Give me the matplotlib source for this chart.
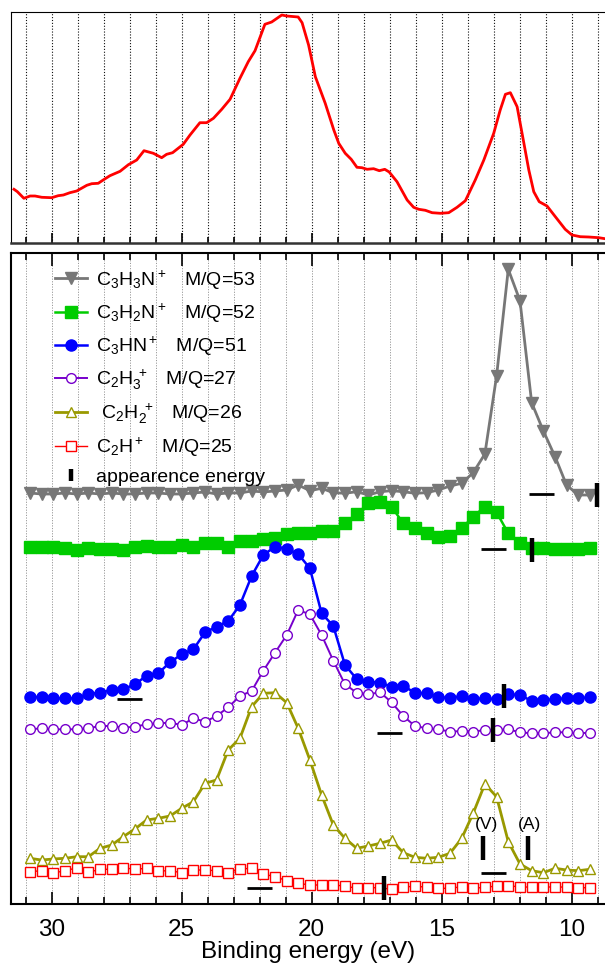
import matplotlib
matplotlib.use('Agg')
import matplotlib.pyplot as plt
from matplotlib.lines import Line2D
from matplotlib.ticker import MultipleLocator

plt.rcParams['font.family'] = ['Liberation Sans', 'DejaVu Sans']
plt.rcParams['mathtext.fontset'] = 'custom'
plt.rcParams['mathtext.rm'] = 'Liberation Sans'
plt.rcParams['mathtext.it'] = 'Liberation Sans:italic'
plt.rcParams['mathtext.bf'] = 'Liberation Sans:bold'

# photoelectron spectrum, top panel (arb. units)
pes_energy = [31.45, 31.32, 31.07, 30.83, 30.64, 30.38, 30.0, 29.75, 29.55, 29.30,
              29.04, 28.65, 28.46, 28.21, 28.02, 27.76, 27.37, 27.05, 26.73, 26.45,
              26.09, 25.77, 25.58, 25.35, 24.94, 24.68, 24.30, 24.04, 23.78, 23.46,
              23.14, 22.76, 22.44, 22.18, 21.80, 21.54, 21.15, 20.96, 20.52, 20.37,
              20.12, 19.86, 19.48, 19.15, 18.96, 18.71, 18.48, 18.26, 18.07, 17.87,
              17.62, 17.40, 17.19, 17.02, 16.72, 16.33, 16.08, 15.88, 15.63, 15.37,
              15.05, 14.73, 14.41, 14.09, 13.71, 13.38, 13.0, 12.75, 12.55, 12.36,
              12.10, 11.91, 11.65, 11.46, 11.25, 10.95, 10.63, 10.25, 9.99, 9.67,
              9.35, 8.96, 8.72]
pes_intensity = [54.0, 51.6, 45.0, 47.3, 47.3, 46.0, 45.6, 47.6, 48.3, 50.6,
                 52.3, 58.0, 59.6, 60.0, 63.3, 67.6, 72.0, 78.6, 83.3, 92.6,
                 90.0, 85.6, 89.0, 90.6, 99.0, 108.3, 120.6, 120.6, 125.0, 134.0,
                 144.0, 165.0, 181.6, 192.6, 219.0, 221.3, 228.3, 227.3, 226.3, 220.6,
                 198.3, 166.6, 140.0, 113.3, 100.0, 90.0, 84.0, 76.0, 75.6, 74.0,
                 74.6, 72.6, 74.0, 71.3, 61.6, 43.3, 36.0, 34.0, 33.0, 30.6,
                 30.0, 30.6, 36.0, 42.6, 63.3, 83.3, 110.0, 133.3, 149.0, 150.6,
                 136.6, 110.0, 73.3, 51.6, 41.6, 37.3, 26.6, 14.0, 8.3, 6.6,
                 6.3, 5.6, 4.6]

# ion yield scans, bottom panel (arb. units, curves offset)
energy = [30.84, 30.39, 29.94, 29.49, 29.04, 28.59, 28.14, 27.69, 27.25, 26.80,
          26.35, 25.90, 25.45, 25.00, 24.55, 24.10, 23.66, 23.21, 22.76, 22.31,
          21.86, 21.41, 20.96, 20.52, 20.07, 19.62, 19.17, 18.72, 18.27, 17.82,
          17.37, 16.93, 16.48, 16.03, 15.58, 15.13, 14.68, 14.23, 13.79, 13.34,
          12.89, 12.44, 11.99, 11.54, 11.09, 10.64, 10.20, 9.75, 9.30]

mq53 = [411, 410, 410, 411, 410, 411, 410, 411, 410, 410,
        411, 411, 410, 410, 411, 412, 410, 411, 411, 413,
        412, 413, 414, 419, 413.3, 415.7, 411.3, 410.7, 412.3, 409,
        412.3, 413.3, 412.3, 410.7, 411.3, 414, 418, 420.7, 431.3, 450,
        528, 634.7, 603.3, 501.3, 473, 447.3, 419, 409, 409]
mq52 = [357.3, 357.3, 357.3, 355.7, 354, 356.3, 355, 355, 354, 356.7,
        358, 357.3, 357.3, 359, 357.3, 360.7, 360.7, 357.3, 363.3, 363.3,
        365, 366.3, 369.7, 370.7, 371.3, 373, 373, 381.3, 389.7, 400.7,
        402.3, 397.3, 380.7, 375.7, 371.3, 366.7, 368, 375.7, 387.3, 397.3,
        391.7, 370.7, 360.7, 356.3, 355.7, 354.7, 354.7, 354.7, 355.7]
mq51 = [207.3, 206.7, 205.7, 205.7, 205.7, 210, 211.3, 214, 214.7, 219.7,
        228.3, 230.7, 241.7, 249.7, 254.7, 271.7, 277.3, 283, 299, 328,
        349, 357.3, 355, 350, 335.7, 290.7, 278, 239, 225, 222.3,
        221.3, 217.3, 218, 211.3, 210.7, 207.3, 205.7, 208, 205, 205.7,
        204.7, 209.7, 209, 203, 204, 204.7, 205.7, 205.7, 206.7]
mq27 = [174.7, 175.7, 174.7, 174.7, 174.7, 175.7, 178, 178, 176.3, 177.3,
        179.7, 180.7, 181.3, 179, 185.7, 182.3, 188, 196.7, 208, 213,
        233.3, 251.3, 269, 294, 289.7, 269, 243.3, 219.7, 211.3, 209.7,
        211.7, 201.7, 188, 178, 175.7, 174.7, 172.3, 173, 172.3, 174,
        174, 174.7, 171.7, 170.7, 170.7, 171.7, 171.7, 170.7, 171.3]
mq26 = [45.7, 44, 45, 45.7, 47.3, 47.3, 55.7, 59, 67.3, 75,
        84, 85.7, 88, 95.7, 102.3, 120.7, 124, 154, 165.7, 197.3,
        210.7, 211.3, 201.3, 175.7, 144, 109, 79, 65.7, 55.7, 58,
        60.7, 64, 51.3, 46.7, 45.7, 46.7, 50.7, 65.7, 90.7, 120,
        107.3, 62.3, 40, 33.3, 31.3, 35.7, 34, 33.3, 34.7]
mq25 = [32.3, 33.3, 31.3, 33, 36.3, 31.7, 34.7, 34.7, 36.3, 34.7,
        35.7, 33, 33.3, 31.3, 34, 34, 33.3, 31.3, 35, 35.7,
        30, 27.3, 23.3, 20.7, 19, 19, 19, 18, 15.7, 16.3,
        16.3, 14.7, 16.7, 18, 16.7, 15.7, 15.7, 17.3, 15.7, 16.7,
        18, 18, 17.3, 16.7, 16.7, 17.3, 16.7, 16.3, 16.3]

labels = [r'$\mathregular{C_3H_3N^+}$   M/Q=53',
          r'$\mathregular{C_3H_2N^+}$   M/Q=52',
          r'$\mathregular{C_3HN^+}$   M/Q=51',
          r'$\mathregular{C_2H_3^{\ +}}$   M/Q=27',
          r' $\mathregular{C_2H_2^{\ +}}$   M/Q=26',
          r'$\mathregular{C_2H^+}$   M/Q=25']

# appearance energies (bars) and threshold levels (short horizontal lines)
ae_energy = [9.04, 11.52, 12.62, 13.03, 13.41, 11.69, 17.22]
ae_level = [409, 354.5, 208, 174, 56, 56, 15.7]
thr_energy = [11.18, 13.0, 27.0, 17.0, 13.0, 22.0]
thr_level = [410, 355, 204.7, 170.7, 30.7, 16.3]

fig = plt.figure(figsize=(6.05, 9.66), dpi=100)
ax_top = fig.add_axes([11 / 605, 722.7 / 966, 594 / 605, 231.6 / 966])
ax = fig.add_axes([11 / 605, 62 / 966, 594 / 605, 650.7 / 966])

# top panel
ax_top.plot(pes_energy, pes_intensity, color='#ff0000', lw=2.0, clip_on=False)
ax_top.set_xlim(31.565, 8.72)
ax_top.set_ylim(0, 231.6)
ax_top.xaxis.set_major_locator(MultipleLocator(5))
ax_top.xaxis.set_minor_locator(MultipleLocator(1))
ax_top.tick_params(axis='x', which='both', direction='in', labelbottom=False, width=1.2)
ax_top.tick_params(axis='x', which='major', length=7)
ax_top.tick_params(axis='x', which='minor', length=4)
ax_top.set_yticks([])
ax_top.grid(axis='x', which='both', color='#111111', ls=(0, (1.0, 1.6)), lw=0.8)
ax_top.spines['right'].set_visible(False)
ax_top.spines['bottom'].set_linewidth(1.8)
ax_top.spines['bottom'].set_color('#333333')

# bottom panel
styles = [dict(color='#777777', marker='v', ms=8, mfc='#777777', lw=2.0),
          dict(color='#00cc00', marker='s', ms=8.5, mfc='#00cc00', lw=1.8),
          dict(color='#0000ff', marker='o', ms=8, mfc='#0000ff', lw=1.8),
          dict(color='#7700cc', marker='o', ms=7, mfc='white', lw=1.4, mew=1.0),
          dict(color='#999900', marker='^', ms=7.5, mfc='white', lw=2.0, mew=1.0),
          dict(color='#ff0000', marker='s', ms=7, mfc='white', lw=1.0, mew=1.0)]
handles = []
for vals, lab, st in zip([mq53, mq52, mq51, mq27, mq26, mq25], labels, styles):
    h, = ax.plot(energy, vals, label=lab, clip_on=False, **st)
    handles.append(h)

ax.vlines(ae_energy, [v - 12 for v in ae_level], [v + 12 for v in ae_level],
          color='black', lw=3.2)
ax.hlines(thr_level, [e + 0.48 for e in thr_energy], [e - 0.48 for e in thr_energy],
          color='black', lw=2.0)
ax.text(13.27, 79, '(V)', fontsize=12.5, ha='center', va='center')
ax.text(11.64, 79, '(A)', fontsize=12.5, ha='center', va='center')

handles.append(Line2D([], [], ls='none', marker='|', ms=9, mew=3.2, color='black'))
leg = ax.legend(handles, labels + ['appearence energy'], loc='upper left',
                bbox_to_anchor=(44 / 594, 1 - 15 / 650.7), frameon=False,
                fontsize=14, handlelength=1.65, handletextpad=0.45,
                labelspacing=0.5, borderpad=0, borderaxespad=0)

ax.set_xlim(31.565, 8.72)
ax.set_ylim(0, 650.7)
ax.xaxis.set_major_locator(MultipleLocator(5))
ax.xaxis.set_minor_locator(MultipleLocator(1))
ax.tick_params(axis='x', which='both', direction='in', top=True, width=1.2,
               labelsize=17.5, pad=11)
ax.tick_params(axis='x', which='major', length=9)
ax.tick_params(axis='x', which='minor', length=5)
ax.set_yticks([])
ax.grid(axis='x', which='both', color='#999999', ls=(0, (1.2, 1.5)), lw=0.7)
ax.set_axisbelow(True)
ax.spines['right'].set_visible(False)
for s in ['left', 'bottom', 'top']:
    ax.spines[s].set_linewidth(1.5)
ax.set_xlabel('Binding energy (eV)', fontsize=17.5, labelpad=0)

fig.savefig('out.png', dpi=100)
